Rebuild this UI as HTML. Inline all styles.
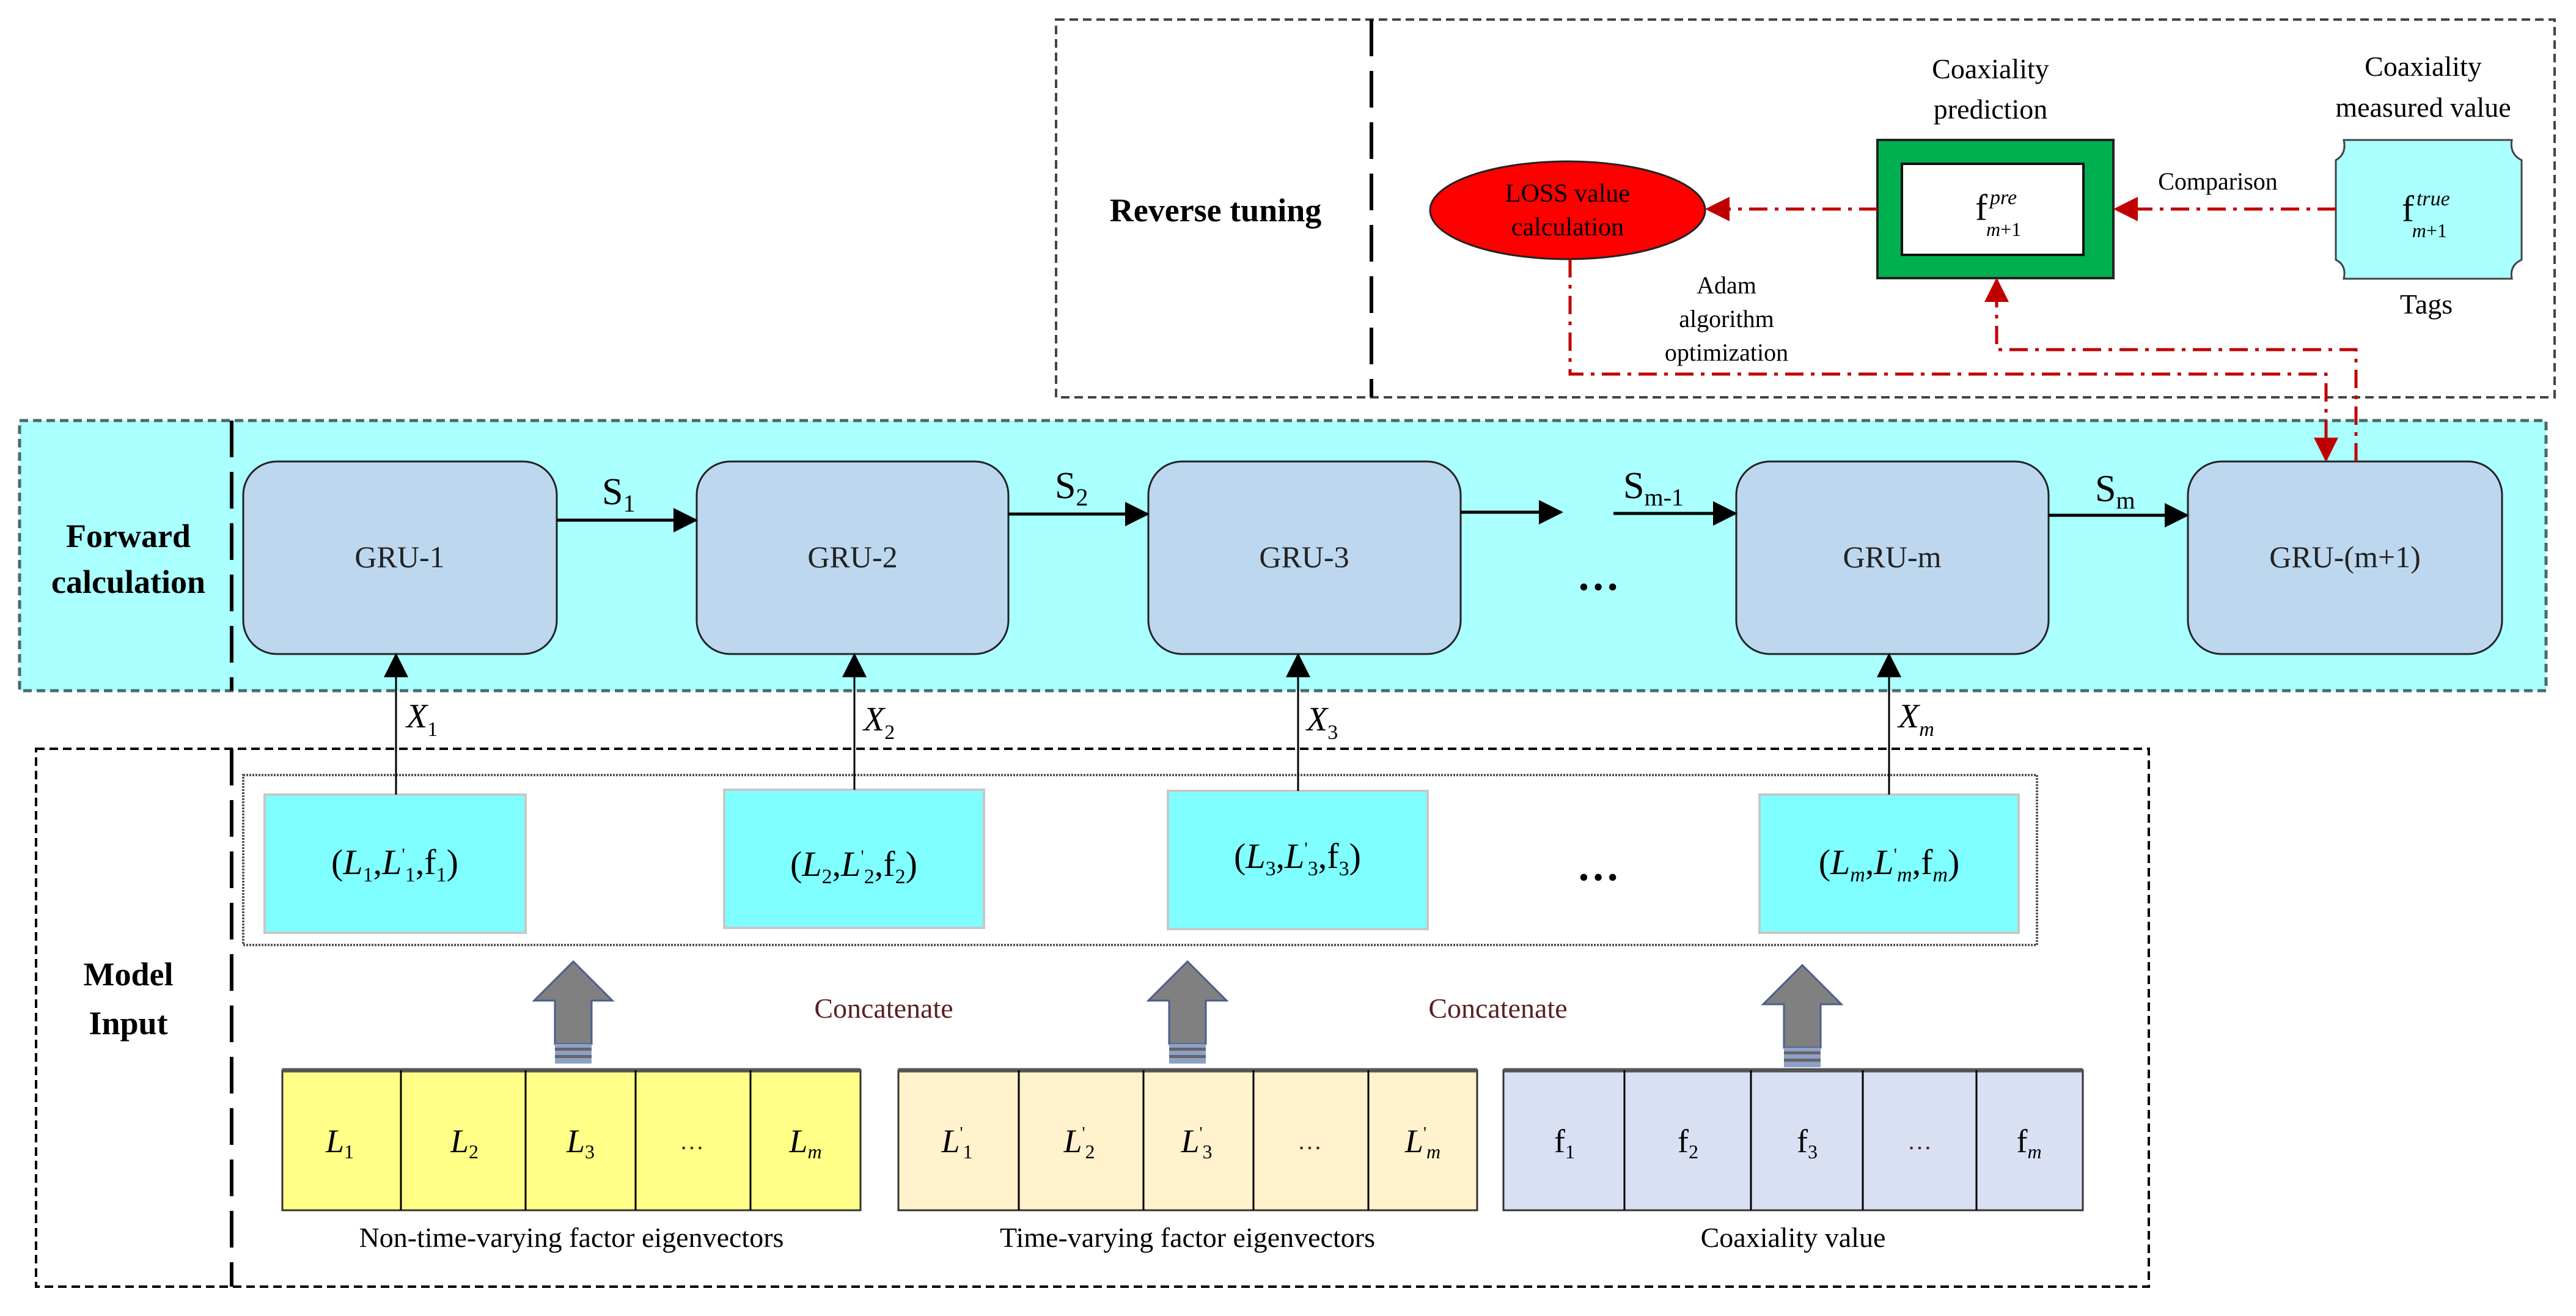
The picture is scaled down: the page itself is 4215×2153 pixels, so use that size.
<!DOCTYPE html>
<html><head><meta charset="utf-8"><style>
html,body{margin:0;padding:0;background:#fff}
svg{display:block;font-family:"Liberation Serif","Times New Roman",serif}
svg text{font-family:"Liberation Serif","Times New Roman",serif}
</style></head><body>
<svg width="4215" height="2153" viewBox="0 0 4215 2153" xmlns="http://www.w3.org/2000/svg" font-family="Liberation Serif, serif">
<defs>
<marker id="ar" viewBox="0 0 10 10" refX="9" refY="5" markerWidth="44" markerHeight="40" orient="auto" markerUnits="userSpaceOnUse"><path d="M0,0 L10,5 L0,10 z" fill="#c00000"/></marker>
<marker id="abk" viewBox="0 0 10 10" refX="9" refY="5" markerWidth="44" markerHeight="40" orient="auto" markerUnits="userSpaceOnUse"><path d="M0,0 L10,5 L0,10 z" fill="#000"/></marker>
</defs>

<rect x="1728" y="32" width="2452" height="618" fill="#fff" stroke="#444" stroke-width="4" stroke-dasharray="14,8"/>
<line x1="2244" y1="32" x2="2244" y2="650" stroke="#000" stroke-width="6" stroke-dasharray="60,24"/>
<text x="1989" y="362" font-size="54" font-weight="bold" text-anchor="middle">Reverse tuning</text>

<rect x="32" y="688" width="4134" height="442" fill="#aaffff" stroke="#4a6a6a" stroke-width="5" stroke-dasharray="14,8"/>
<line x1="379" y1="688" x2="379" y2="1130" stroke="#000" stroke-width="6" stroke-dasharray="60,24"/>
<text x="210" y="895" font-size="54" font-weight="bold" text-anchor="middle">Forward</text>
<text x="210" y="970" font-size="54" font-weight="bold" text-anchor="middle">calculation</text>

<g fill="#bdd7ee" stroke="#222" stroke-width="3">
<rect x="398" y="755" width="513" height="315" rx="55"/>
<rect x="1140" y="755" width="510" height="315" rx="55"/>
<rect x="1879" y="755" width="511" height="315" rx="55"/>
<rect x="2841" y="755" width="511" height="315" rx="55"/>
<rect x="3580" y="755" width="514" height="315" rx="55"/>
</g>
<g font-size="50" text-anchor="middle" fill="#222">
<text x="654" y="928">GRU-1</text>
<text x="1395" y="928">GRU-2</text>
<text x="2134" y="928">GRU-3</text>
<text x="3096" y="928">GRU-m</text>
<text x="3837" y="928">GRU-(m+1)</text>
</g>
<g stroke="#000" stroke-width="5" marker-end="url(#abk)">
<line x1="911" y1="851" x2="1138" y2="851"/>
<line x1="1650" y1="841" x2="1877" y2="841"/>
<line x1="2390" y1="838" x2="2554" y2="838"/>
<line x1="2640" y1="840" x2="2839" y2="840"/>
<line x1="3352" y1="843" x2="3578" y2="843"/>
</g>
<g font-size="62">
<text x="985" y="825">S<tspan font-size="40" dy="12">1</tspan></text>
<text x="1726" y="815">S<tspan font-size="40" dy="12">2</tspan></text>
<text x="2656" y="815">S<tspan font-size="40" dy="12">m-1</tspan></text>
<text x="3428" y="820">S<tspan font-size="40" dy="12">m</tspan></text>
</g>
<text x="2615" y="965" font-size="70" text-anchor="middle" font-weight="bold">…</text>

<rect x="59" y="1225" width="3457" height="880" fill="none" stroke="#000" stroke-width="4" stroke-dasharray="14,8"/>
<line x1="379" y1="1225" x2="379" y2="2105" stroke="#000" stroke-width="6" stroke-dasharray="60,24"/>
<text x="210" y="1612" font-size="54" font-weight="bold" text-anchor="middle">Model</text>
<text x="210" y="1692" font-size="54" font-weight="bold" text-anchor="middle">Input</text>

<rect x="398" y="1268" width="2935" height="278" fill="none" stroke="#555" stroke-width="4" stroke-dasharray="3,2"/>
<g fill="#7fffff" stroke="#c8c8c8" stroke-width="4">
<rect x="433" y="1300" width="427" height="226"/>
<rect x="1185" y="1292" width="425" height="226"/>
<rect x="1911" y="1294" width="425" height="226"/>
<rect x="2879" y="1300" width="424" height="226"/>
</g>
<g font-size="58" text-anchor="middle" font-style="italic">
<text x="646" y="1430"><tspan font-style="normal">(</tspan>L<tspan font-size="34" dy="12" font-style="normal">1</tspan><tspan dy="-12" font-style="normal">,</tspan>L<tspan font-size="30" dy="-22" font-style="normal">'</tspan><tspan font-size="34" dy="34" font-style="normal">1</tspan><tspan dy="-12" font-style="normal">,f</tspan><tspan font-size="34" dy="12" font-style="normal">1</tspan><tspan dy="-12" font-style="normal">)</tspan></text>
<text x="1397" y="1433"><tspan font-style="normal">(</tspan>L<tspan font-size="34" dy="12" font-style="normal">2</tspan><tspan dy="-12" font-style="normal">,</tspan>L<tspan font-size="30" dy="-22" font-style="normal">'</tspan><tspan font-size="34" dy="34" font-style="normal">2</tspan><tspan dy="-12" font-style="normal">,f</tspan><tspan font-size="34" dy="12" font-style="normal">2</tspan><tspan dy="-12" font-style="normal">)</tspan></text>
<text x="2123" y="1420"><tspan font-style="normal">(</tspan>L<tspan font-size="34" dy="12" font-style="normal">3</tspan><tspan dy="-12" font-style="normal">,</tspan>L<tspan font-size="30" dy="-22" font-style="normal">'</tspan><tspan font-size="34" dy="34" font-style="normal">3</tspan><tspan dy="-12" font-style="normal">,f</tspan><tspan font-size="34" dy="12" font-style="normal">3</tspan><tspan dy="-12" font-style="normal">)</tspan></text>
<text x="3091" y="1430"><tspan font-style="normal">(</tspan>L<tspan font-size="34" dy="12">m</tspan><tspan dy="-12" font-style="normal">,</tspan>L<tspan font-size="30" dy="-22" font-style="normal">'</tspan><tspan font-size="34" dy="34">m</tspan><tspan dy="-12" font-style="normal">,f</tspan><tspan font-size="34" dy="12">m</tspan><tspan dy="-12" font-style="normal">)</tspan></text>
</g>
<text x="2615" y="1440" font-size="70" text-anchor="middle" font-weight="bold">…</text>

<g stroke="#000" stroke-width="3" marker-end="url(#abk)">
<line x1="648" y1="1300" x2="648" y2="1072"/>
<line x1="1398" y1="1292" x2="1398" y2="1072"/>
<line x1="2124" y1="1294" x2="2124" y2="1072"/>
<line x1="3091" y1="1300" x2="3091" y2="1072"/>
</g>
<g font-size="56" font-style="italic">
<text x="665" y="1190">X<tspan font-size="34" dy="14" font-style="normal">1</tspan></text>
<text x="1413" y="1195">X<tspan font-size="34" dy="14" font-style="normal">2</tspan></text>
<text x="2138" y="1195">X<tspan font-size="34" dy="14" font-style="normal">3</tspan></text>
<text x="3106" y="1190">X<tspan font-size="34" dy="14">m</tspan></text>
</g>

<g>
<g transform="translate(938,0)">
<path d="M0,1573 L-64,1637 L-30,1637 L-30,1708 L30,1708 L30,1637 L64,1637 Z" fill="#808080" stroke="#4a5f8a" stroke-width="3"/>
<rect x="-30" y="1708" width="60" height="32" fill="#8ea0c8"/>
<rect x="-30" y="1714" width="60" height="5" fill="#666"/><rect x="-30" y="1726" width="60" height="5" fill="#666"/>
</g>
<g transform="translate(1943,0)">
<path d="M0,1573 L-64,1637 L-30,1637 L-30,1708 L30,1708 L30,1637 L64,1637 Z" fill="#808080" stroke="#4a5f8a" stroke-width="3"/>
<rect x="-30" y="1708" width="60" height="32" fill="#8ea0c8"/>
<rect x="-30" y="1714" width="60" height="5" fill="#666"/><rect x="-30" y="1726" width="60" height="5" fill="#666"/>
</g>
<g transform="translate(2949,6)">
<path d="M0,1573 L-64,1637 L-30,1637 L-30,1708 L30,1708 L30,1637 L64,1637 Z" fill="#808080" stroke="#4a5f8a" stroke-width="3"/>
<rect x="-30" y="1708" width="60" height="32" fill="#8ea0c8"/>
<rect x="-30" y="1714" width="60" height="5" fill="#666"/><rect x="-30" y="1726" width="60" height="5" fill="#666"/>
</g>
</g>
<text x="1446" y="1665" font-size="46" fill="#5a2020" text-anchor="middle">Concatenate</text>
<text x="2451" y="1665" font-size="46" fill="#5a2020" text-anchor="middle">Concatenate</text>

<rect x="462" y="1751" width="946" height="229" fill="#ffff88" stroke="#333" stroke-width="3"/>
<rect x="1470" y="1751" width="947" height="229" fill="#fff2cc" stroke="#333" stroke-width="3"/>
<rect x="2460" y="1751" width="948" height="229" fill="#dae0f3" stroke="#333" stroke-width="3"/>
<line x1="462" y1="1751" x2="1408" y2="1751" stroke="#555" stroke-width="7"/>
<line x1="1470" y1="1751" x2="2417" y2="1751" stroke="#555" stroke-width="7"/>
<line x1="2460" y1="1751" x2="3408" y2="1751" stroke="#555" stroke-width="7"/>
<g stroke="#000" stroke-width="3">
<line x1="656" y1="1751" x2="656" y2="1980"/><line x1="860" y1="1751" x2="860" y2="1980"/><line x1="1040" y1="1751" x2="1040" y2="1980"/><line x1="1228" y1="1751" x2="1228" y2="1980"/>
<line x1="1667" y1="1751" x2="1667" y2="1980"/><line x1="1871" y1="1751" x2="1871" y2="1980"/><line x1="2051" y1="1751" x2="2051" y2="1980"/><line x1="2239" y1="1751" x2="2239" y2="1980"/>
<line x1="2658" y1="1751" x2="2658" y2="1980"/><line x1="2865" y1="1751" x2="2865" y2="1980"/><line x1="3048" y1="1751" x2="3048" y2="1980"/><line x1="3234" y1="1751" x2="3234" y2="1980"/>
</g>
<g font-size="54" font-style="italic" text-anchor="middle">
<text x="556" y="1885">L<tspan font-size="32" dy="10" font-style="normal">1</tspan></text>
<text x="760" y="1885">L<tspan font-size="32" dy="10" font-style="normal">2</tspan></text>
<text x="950" y="1885">L<tspan font-size="32" dy="10" font-style="normal">3</tspan></text>
<text x="1132" y="1880" font-style="normal" font-size="40" fill="#5a2020">…</text>
<text x="1318" y="1885">L<tspan font-size="32" dy="10">m</tspan></text>
<text x="1566" y="1885">L<tspan font-size="28" dy="-22" font-style="normal">'</tspan><tspan font-size="32" dy="32" font-style="normal">1</tspan></text>
<text x="1766" y="1885">L<tspan font-size="28" dy="-22" font-style="normal">'</tspan><tspan font-size="32" dy="32" font-style="normal">2</tspan></text>
<text x="1958" y="1885">L<tspan font-size="28" dy="-22" font-style="normal">'</tspan><tspan font-size="32" dy="32" font-style="normal">3</tspan></text>
<text x="2143" y="1880" font-style="normal" font-size="40" fill="#5a2020">…</text>
<text x="2328" y="1885">L<tspan font-size="28" dy="-22" font-style="normal">'</tspan><tspan font-size="32" dy="32">m</tspan></text>
<text x="2560" y="1885" font-style="normal">f<tspan font-size="32" dy="10">1</tspan></text>
<text x="2762" y="1885" font-style="normal">f<tspan font-size="32" dy="10">2</tspan></text>
<text x="2957" y="1885" font-style="normal">f<tspan font-size="32" dy="10">3</tspan></text>
<text x="3141" y="1880" font-style="normal" font-size="40" fill="#5a2020">…</text>
<text x="3320" y="1885" font-style="normal">f<tspan font-size="32" dy="10" font-style="italic">m</tspan></text>
</g>
<g font-size="46" text-anchor="middle">
<text x="935" y="2040">Non-time-varying factor eigenvectors</text>
<text x="1943" y="2040">Time-varying factor eigenvectors</text>
<text x="2934" y="2040">Coaxiality value</text>
</g>

<ellipse cx="2565" cy="344" rx="225" ry="80" fill="#ff0000" stroke="#222" stroke-width="3"/>
<text x="2565" y="330" font-size="42" text-anchor="middle">LOSS value</text>
<text x="2565" y="385" font-size="42" text-anchor="middle">calculation</text>

<rect x="3072" y="229" width="386" height="226" fill="#00b050" stroke="#222" stroke-width="4"/>
<rect x="3112" y="268" width="297" height="149" fill="#fff" stroke="#111" stroke-width="4"/>
<text x="3232" y="360" font-size="60">f<tspan font-size="34" font-style="italic" dx="4" dy="-26">pre</tspan><tspan font-size="32" dx="-50" dy="52"><tspan font-style="italic">m</tspan>+1</tspan></text>
<text x="3257" y="128" font-size="46" text-anchor="middle">Coaxiality</text>
<text x="3257" y="194" font-size="46" text-anchor="middle">prediction</text>

<path d="M3835,229 L4110,229 Q4106,252 4126,262 L4126,425 Q4106,434 4110,456 L3835,456 Q3840,434 3822,425 L3822,262 Q3840,252 3835,229 Z" fill="#aaffff" stroke="#444" stroke-width="3"/>
<text x="3930" y="362" font-size="60">f<tspan font-size="34" font-style="italic" dx="4" dy="-26">true</tspan><tspan font-size="32" dx="-62" dy="52"><tspan font-style="italic">m</tspan>+1</tspan></text>
<text x="3965" y="124" font-size="46" text-anchor="middle">Coaxiality</text>
<text x="3965" y="191" font-size="46" text-anchor="middle">measured value</text>
<text x="3970" y="513" font-size="46" text-anchor="middle">Tags</text>
<text x="3629" y="310" font-size="40" text-anchor="middle">Comparison</text>
<g font-size="40" text-anchor="middle">
<text x="2825" y="480">Adam</text>
<text x="2825" y="535">algorithm</text>
<text x="2825" y="590">optimization</text>
</g>

<g stroke="#c00000" stroke-width="5" fill="none" stroke-dasharray="30,12,6,12">
<line x1="3072" y1="342" x2="2794" y2="342" marker-end="url(#ar)"/>
<line x1="3822" y1="342" x2="3462" y2="342" marker-end="url(#ar)"/>
<polyline points="2569,424 2569,612 3806,612 3806,752" marker-end="url(#ar)"/>
<polyline points="3855,755 3855,572 3267,572 3267,458" marker-end="url(#ar)"/>
</g>
</svg>
</body></html>
